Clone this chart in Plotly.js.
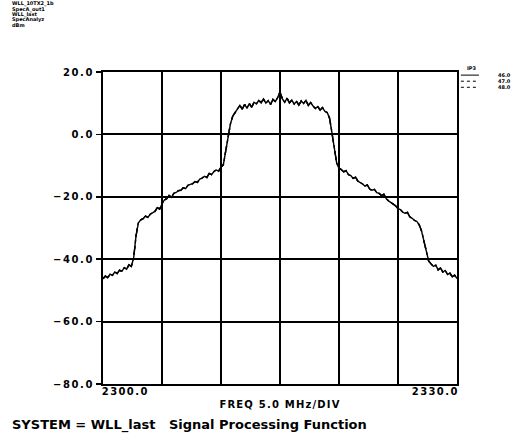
<!DOCTYPE html>
<html>
<head>
<meta charset="utf-8">
<script src="https://cdn.plot.ly/plotly-3.0.1.min.js"></script>
<style>
  html, body { margin: 0; padding: 0; background: #fff; }
  #chart { width: 521px; height: 436px; }
  .js-plotly-plot .ytick text { letter-spacing: 1.6px; }
  .js-plotly-plot .annotation[data-index="5"] text,
  .js-plotly-plot .annotation[data-index="6"] text { letter-spacing: 1.4px; }
  .js-plotly-plot .annotation[data-index="7"] text { letter-spacing: 1.2px; }
</style>
</head>
<body>
<div id="chart"></div>
<script>
// Header block printed above the plot
const headerLines = ['WLL_10TX2_1b', 'SpecA_out1', 'WLL_last', 'SpecAnalyz', 'dBm'];

// Sweep definition: 2300 to 2330 MHz, 0.2 MHz per point
const freqStart = 2300;
const freqStep = 0.2;
const freqEndLabels = [2300, 2330];

// IP3 settings of the overlaid sweeps
const ip3Levels = ['46.0', '47.0', '48.0'];
const ip3Dash = ['solid', 'dash', 'dot'];

// Measured output spectrum, dBm
const spectrumDbm = [
  -46.3, -45.4, -45.9, -44.8, -45.2, -44.1, -44.6, -43.5, -43.9, -42.7,
  -43.2, -41.8, -42.3, -39.5, -32.5, -28.3, -27.4, -27.0, -26.2, -26.6,
  -25.6, -25.0, -24.7, -23.5, -23.9, -22.3, -21.0, -20.6, -19.6, -20.2,
  -18.9, -18.6, -18.0, -17.9, -17.1, -17.4, -16.3, -16.0, -15.8, -15.1,
  -15.4, -14.3, -14.0, -13.4, -13.8, -12.5, -12.9, -11.9, -11.4, -11.8,
  -10.5, -9.7, -5.5, -0.9, 3.4, 5.9, 7.1, 8.2, 9.3, 8.1,
  9.6, 8.4, 9.9, 8.7, 10.3, 9.8, 10.9, 10.2, 11.3, 10.0,
  10.8, 9.6, 11.2, 10.5, 11.8, 13.6, 11.4, 10.3, 11.6, 10.1,
  11.0, 9.7, 10.6, 9.4, 10.7, 9.9, 10.9, 9.3, 10.2, 9.1,
  8.3, 8.9, 7.8, 8.6, 7.4, 7.0, 5.2, 0.6, -4.8, -9.1,
  -10.9, -11.3, -12.0, -11.6, -12.9, -13.2, -14.1, -13.7, -15.0, -15.4,
  -15.9, -16.6, -16.2, -17.5, -17.9, -17.6, -18.7, -18.9, -19.6, -19.2,
  -20.6, -21.3, -21.8, -22.4, -22.9, -23.8, -24.1, -24.9, -25.3, -25.0,
  -26.4, -26.9, -27.6, -27.9, -29.0, -31.0, -34.5, -38.2, -40.6, -41.5,
  -42.3, -41.9, -43.4, -42.8, -44.1, -43.6, -44.9, -44.5, -45.6, -45.1,
  -46.2
];

const BOLD = 'DejaVu Sans';

const traces = ip3Levels.map((lvl, k) => ({
  type: 'scatter',
  mode: 'lines',
  name: lvl,
  x0: freqStart,
  dx: freqStep,
  y: spectrumDbm,
  line: { color: '#000', width: 1.4, dash: ip3Dash[k] },
  showlegend: false,
  hoverinfo: 'skip'
}));

const annotations = [];
const shapes = [];

// header text lines (annotation indices 0-4)
headerLines.forEach((t, i) => {
  annotations.push({
    xref: 'paper', yref: 'paper', x: -0.263, y: 1.218 - i * 0.0165,
    xanchor: 'left', yanchor: 'middle', showarrow: false,
    text: '<b>' + t + '</b>',
    font: { family: BOLD, size: 5, color: '#000' }
  });
});

// end-of-sweep frequency labels (indices 5-6)
freqEndLabels.forEach((f, i) => {
  annotations.push({
    xref: 'x', yref: 'paper', x: f, y: 0,
    xanchor: i === 0 ? 'left' : 'right', yanchor: 'top', yshift: 0,
    xshift: i === 0 ? 1 : 0,
    showarrow: false,
    text: '<b>' + f.toFixed(1) + '</b>',
    font: { family: BOLD, size: 10, color: '#000' }
  });
});

// axis caption (index 7)
annotations.push({
  xref: 'paper', yref: 'paper', x: 0.5, y: 0, yanchor: 'top', yshift: -13,
  showarrow: false, text: '<b>FREQ 5.0 MHz/DIV</b>',
  font: { family: BOLD, size: 10, color: '#000' }
});

// system footer (index 8)
annotations.push({
  xref: 'paper', yref: 'paper', x: -0.262, y: 0, xanchor: 'left', yanchor: 'top', yshift: -31,
  showarrow: false, text: '<b>SYSTEM = WLL_last&nbsp;&nbsp;&nbsp;Signal Processing Function</b>',
  font: { family: BOLD, size: 13, color: '#000' }
});

// IP3 key to the right of the frame
annotations.push({
  xref: 'paper', yref: 'paper', x: 1.022, y: 1.012, xanchor: 'left', yanchor: 'middle',
  showarrow: false, text: '<b>IP3</b>',
  font: { family: BOLD, size: 5, color: '#000' }
});
ip3Levels.forEach((lvl, k) => {
  const yy = 0.99 - k * 0.0195;
  shapes.push({
    type: 'line', xref: 'paper', yref: 'paper',
    x0: 1.011, x1: 1.062, y0: yy, y1: yy,
    line: { color: '#000', width: 1, dash: ip3Dash[k] === 'solid' ? 'solid' : 'dot' }
  });
  annotations.push({
    xref: 'paper', yref: 'paper', x: 1.11, y: yy, xanchor: 'left', yanchor: 'middle',
    showarrow: false, text: '<b>' + lvl + '</b>',
    font: { family: BOLD, size: 5, color: '#000' }
  });
});

const layout = {
  width: 521, height: 436,
  margin: { l: 103, r: 64, t: 72, b: 52, pad: 0 },
  paper_bgcolor: '#fff', plot_bgcolor: '#fff',
  showlegend: false,
  xaxis: {
    range: [2300, 2330], dtick: 5, tick0: 2300,
    showgrid: true, gridcolor: '#000', gridwidth: 2,
    showline: true, linecolor: '#000', linewidth: 2, mirror: true,
    showticklabels: false, ticks: '', zeroline: false, fixedrange: true
  },
  yaxis: {
    range: [-80, 20], dtick: 20, tick0: -80,
    showgrid: true, gridcolor: '#000', gridwidth: 2,
    showline: true, linecolor: '#000', linewidth: 2, mirror: true,
    ticks: 'outside', ticklen: 5, tickwidth: 1.5, tickcolor: '#000',
    tickformat: '.1f', zeroline: false, fixedrange: true,
    tickfont: { family: BOLD, size: 10, color: '#000', weight: 'bold' }
  },
  annotations: annotations,
  shapes: shapes
};

Plotly.newPlot('chart', traces, layout, { staticPlot: true, displayModeBar: false });
</script>
</body>
</html>
